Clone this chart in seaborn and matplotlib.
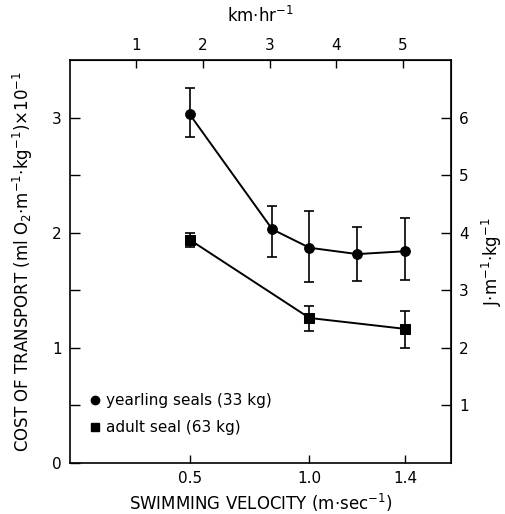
import numpy as np
import pandas as pd
import matplotlib
matplotlib.use('Agg')
import matplotlib.pyplot as plt
import seaborn as sns

# Dados
vel_filhote = [0.5, 0.845, 1.0, 1.2, 1.4]
custo_filhote = [3.03, 2.03, 1.87, 1.815, 1.84]
sup_filhote = [3.26, 2.23, 2.19, 2.05, 2.13]
inf_filhote = [2.83, 1.79, 1.57, 1.58, 1.59]

vel_adulto = [0.5, 1.0, 1.4]
custo_adulto = [1.94, 1.26, 1.165]
sup_adulto = [2.00, 1.36, 1.32]
inf_adulto = [1.88, 1.15, 1.00]

nomes = ['yearling seals (33 kg)', 'adult seal (63 kg)']
xticks_ms = [0.5, 1.0, 1.4]
xticks_kmh = [1, 2, 3, 4, 5]
yticks_major = [0, 1, 2, 3]
yticks_j = [1, 2, 3, 4, 5, 6]

sns.set_style('ticks')
plt.rcParams['font.family'] = ['DejaVu Sans']
plt.rcParams['mathtext.default'] = 'regular'
plt.rcParams['text.color'] = 'black'
plt.rcParams['axes.labelcolor'] = 'black'
plt.rcParams['xtick.color'] = 'black'
plt.rcParams['ytick.color'] = 'black'
plt.rcParams['axes.edgecolor'] = 'black'
plt.rcParams['xtick.direction'] = 'in'
plt.rcParams['ytick.direction'] = 'in'

df = pd.concat([
    pd.DataFrame({'vel': vel_filhote, 'custo': custo_filhote, 'grupo': nomes[0]}),
    pd.DataFrame({'vel': vel_adulto, 'custo': custo_adulto, 'grupo': nomes[1]}),
])

fig = plt.figure(figsize=(5.06, 5.14), dpi=100)
ax = fig.add_axes([0.138, 0.0992, 0.753, 0.7838])

sns.lineplot(data=df, x='vel', y='custo', hue='grupo', style='grupo',
             markers={nomes[0]: 'o', nomes[1]: 's'}, dashes=False,
             palette={nomes[0]: 'black', nomes[1]: 'black'},
             markersize=7, linewidth=1.4, markeredgecolor='black',
             legend=False, ax=ax)

# barras de erro assimétricas
for v, c, s, i in [(vel_filhote, custo_filhote, sup_filhote, inf_filhote),
                   (vel_adulto, custo_adulto, sup_adulto, inf_adulto)]:
    c = np.array(c)
    err = [c - np.array(i), np.array(s) - c]
    ax.errorbar(v, c, yerr=err, fmt='none', ecolor='black', elinewidth=1.2,
                capsize=3.5, capthick=1.2)

ax.set_xlim(0, 1.59)
ax.set_ylim(0, 3.5)
ax.set_xticks(xticks_ms)
ax.set_xticklabels(['0.5', '1.0', '1.4'])
ax.set_yticks(yticks_major)
ax.set_yticks([0.5, 1.5, 2.5], minor=True)
ax.tick_params(which='both', direction='in', length=7, width=1, labelsize=11, pad=6)
ax.tick_params(axis='x', which='both', direction='in', length=6, top=False)
ax.tick_params(axis='y', which='both', right=False)
for s in ax.spines.values():
    s.set_linewidth(1.2)

ax.set_xlabel('SWIMMING VELOCITY (m$\\cdot$sec$^{-1}$)', fontsize=12, labelpad=4)
ax.set_ylabel('COST OF TRANSPORT (ml O$_2$$\\cdot$m$^{-1}$$\\cdot$kg$^{-1}$)$\\times$10$^{-1}$',
              fontsize=12, labelpad=12)

# eixo superior em km/h
top = ax.secondary_xaxis('top', functions=(lambda v: v * 3.6, lambda v: v / 3.6))
top.set_xticks(xticks_kmh)
top.tick_params(direction='in', length=6, width=1, labelsize=11, pad=5)
top.set_xlabel('km$\\cdot$hr$^{-1}$', fontsize=12, labelpad=12)

# eixo direito em J/m/kg
dir_ax = ax.secondary_yaxis('right', functions=(lambda v: v * 2, lambda v: v / 2))
dir_ax.set_yticks(yticks_j)
dir_ax.tick_params(direction='in', length=7, width=1, labelsize=11, pad=6)
dir_ax.set_ylabel('J$\\cdot$m$^{-1}$$\\cdot$kg$^{-1}$', fontsize=12, labelpad=8)

# legenda
h1 = plt.Line2D([], [], color='black', marker='o', linestyle='none', markersize=6)
h2 = plt.Line2D([], [], color='black', marker='s', linestyle='none', markersize=5.5)
ax.legend([h1, h2], nomes, loc='lower left', bbox_to_anchor=(0.035, 0.05),
          frameon=False, fontsize=11, handlelength=0.6, handletextpad=0.4,
          labelspacing=0.8, borderpad=0)

fig.savefig('out.png', dpi=100)
